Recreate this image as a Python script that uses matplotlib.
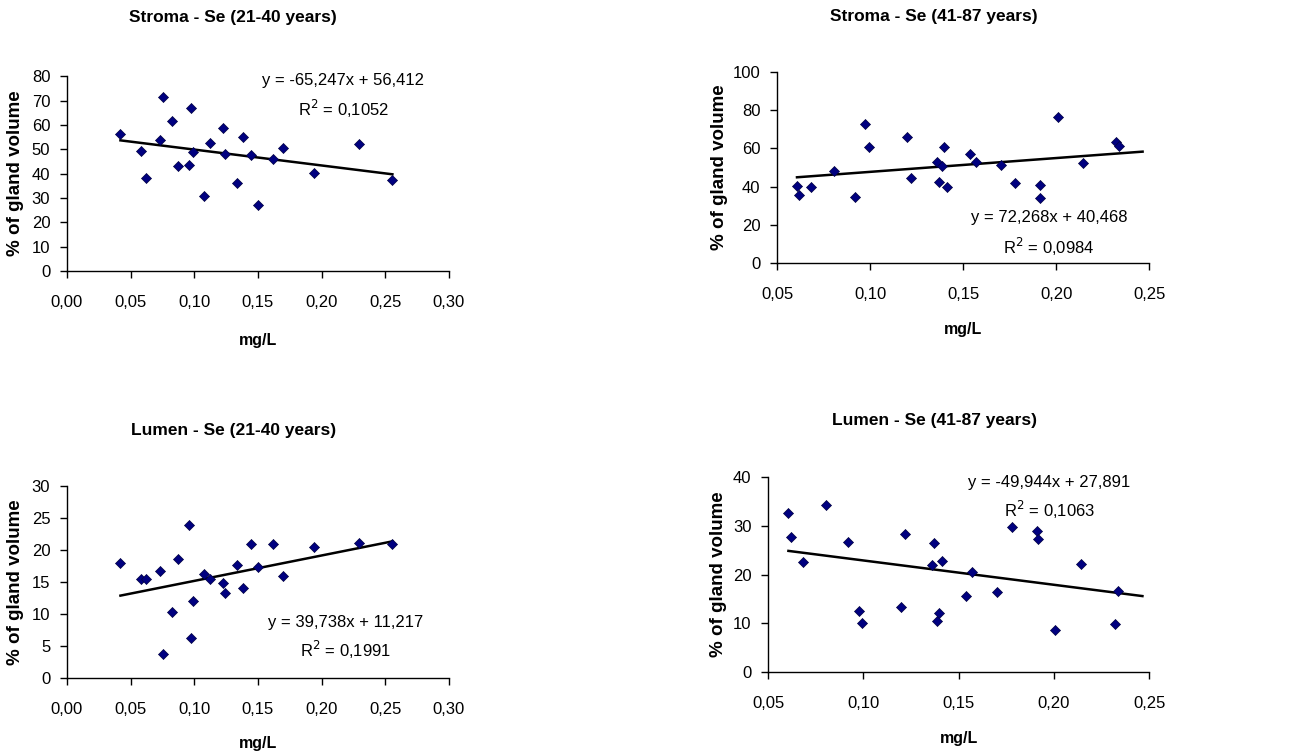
import numpy as np
import matplotlib
matplotlib.use("Agg")
import matplotlib.pyplot as plt
from matplotlib.ticker import FuncFormatter

plt.rcParams['font.family'] = ['Liberation Sans', 'DejaVu Sans']

# --- data ---
# 21-40 years group (same subjects in both stroma and lumen panels)
se_young = [0.0420, 0.0580, 0.0617, 0.0732, 0.0758, 0.0825, 0.0874, 0.0960, 0.0978,
            0.0986, 0.1078, 0.1125, 0.1229, 0.1245, 0.1334, 0.1386, 0.1448, 0.1498,
            0.1619, 0.1697, 0.1942, 0.2294, 0.2556]
stroma_young = [56.2, 49.3, 38.2, 54.0, 71.4, 61.8, 43.2, 43.7, 66.8, 48.8, 31.0, 52.7,
                58.9, 48.2, 36.0, 55.1, 47.8, 27.0, 46.0, 50.6, 40.4, 52.2, 37.5]
lumen_young = [18.0, 15.5, 15.5, 16.7, 3.8, 10.3, 18.6, 24.0, 6.3, 12.0, 16.2, 15.5,
               14.9, 13.3, 17.6, 14.1, 20.9, 17.4, 20.9, 16.0, 20.5, 21.1, 20.9]

# 41-87 years group
se_old = [0.0607, 0.0620, 0.0684, 0.0805, 0.0920, 0.0975, 0.0995, 0.1198, 0.1220,
          0.1358, 0.1370, 0.1388, 0.1395, 0.1412, 0.1539, 0.1568, 0.1702, 0.1780,
          0.1913, 0.1915, 0.2008, 0.2145, 0.2322, 0.2337]
stroma_old = [40.5, 35.4, 39.6, 48.0, 34.7, 72.9, 60.6, 66.1, 44.5, 52.9, 42.6, 50.6,
              60.6, 39.8, 57.1, 52.9, 51.5, 41.9, 41.0, 34.2, 76.3, 52.2, 63.4, 61.1]
lumen_old = [32.6, 27.8, 22.6, 34.3, 26.7, 12.6, 10.1, 13.3, 28.4, 22.0, 26.5, 10.4,
             12.2, 22.8, 15.5, 20.6, 16.5, 29.8, 29.0, 27.3, 8.7, 22.2, 9.9, 16.7]

# trendline coefficients as printed on the charts
fits = {
    'stroma_young': (-65.247, 56.412, 0.1052),
    'stroma_old': (72.268, 40.468, 0.0984),
    'lumen_young': (39.738, 11.217, 0.1991),
    'lumen_old': (-49.944, 27.891, 0.1063),
}
trend_end_old = 0.2465  # trendline for 41-87 group is extended a bit past the data

titles = ['Stroma - Se (21-40 years)', 'Stroma - Se (41-87 years)',
          'Lumen - Se (21-40 years)', 'Lumen - Se (41-87 years)']


def comma(v, dec):
    return f"{v:.{dec}f}".replace('.', ',')


def fmt_eq(a, b):
    sign = '+' if b >= 0 else '-'
    return f"y = {comma(a, 3)}x {sign} {comma(abs(b), 3)}"


fig = plt.figure(figsize=(12.93, 7.55), dpi=100)

# panel layout: axes rect, ticks, text spots (axes fractions)
panels = [
    dict(rect=[0.0518, 0.641, 0.2954, 0.258], x=se_young, y=stroma_young, fit='stroma_young',
         yt=np.arange(0, 81, 10), xt=np.arange(0, 0.301, 0.05), xend=None,
         title_xy=(0.435, 1.30), eq_xy=(0.723, 0.98), r2_xy=(0.723, 0.83),
         ylab_x=-0.134, xlab_y=-0.354),
    dict(rect=[0.601, 0.6517, 0.2877, 0.253], x=se_old, y=stroma_old, fit='stroma_old',
         yt=np.arange(0, 101, 20), xt=np.arange(0.05, 0.251, 0.05), xend=trend_end_old,
         title_xy=(0.422, 1.288), eq_xy=(0.731, 0.236), r2_xy=(0.731, 0.084),
         ylab_x=-0.156, xlab_y=-0.35),
    dict(rect=[0.0518, 0.102, 0.2954, 0.254], x=se_young, y=lumen_young, fit='lumen_young',
         yt=np.arange(0, 31, 5), xt=np.arange(0, 0.301, 0.05), xend=None,
         title_xy=(0.435, 1.29), eq_xy=(0.730, 0.29), r2_xy=(0.730, 0.146),
         ylab_x=-0.134, xlab_y=-0.344),
    dict(rect=[0.594, 0.110, 0.2947, 0.258], x=se_old, y=lumen_old, fit='lumen_old',
         yt=np.arange(0, 41, 10), xt=np.arange(0.05, 0.251, 0.05), xend=trend_end_old,
         title_xy=(0.436, 1.29), eq_xy=(0.738, 0.974), r2_xy=(0.738, 0.83),
         ylab_x=-0.129, xlab_y=-0.344),
]

for p, title in zip(panels, titles):
    ax = fig.add_axes(p['rect'])
    x = np.array(p['x'])
    y = np.array(p['y'])
    a, b, r2 = fits[p['fit']]

    ax.scatter(x, y, marker='D', s=26, color='#000080', edgecolor='#000040',
               linewidth=0.5, zorder=3, clip_on=False)
    xend = p['xend'] if p['xend'] is not None else x.max()
    xl = np.array([x.min(), xend])
    ax.plot(xl, a * xl + b, color='black', lw=1.8, zorder=2)

    ax.set_xlim(p['xt'][0], p['xt'][-1])
    ax.set_ylim(p['yt'][0], p['yt'][-1])
    ax.set_xticks(p['xt'])
    ax.set_yticks(p['yt'])
    ax.xaxis.set_major_formatter(FuncFormatter(lambda v, pos: comma(v, 2)))
    ax.yaxis.set_major_formatter(FuncFormatter(lambda v, pos: f"{v:.0f}"))

    for s in ['top', 'right']:
        ax.spines[s].set_visible(False)
    for s in ['left', 'bottom']:
        ax.spines[s].set_linewidth(1.0)
    ax.tick_params(axis='both', direction='out', length=5, width=1, labelsize=12)
    ax.tick_params(axis='x', pad=12)
    ax.tick_params(axis='y', pad=7)

    ax.text(*p['title_xy'], title, transform=ax.transAxes, ha='center', va='center',
            fontsize=12.5, fontweight='bold')
    ax.set_ylabel('% of gland volume', fontsize=13.5, fontweight='bold')
    ax.yaxis.label.set_va('center')
    ax.yaxis.set_label_coords(p['ylab_x'], 0.5)
    ax.set_xlabel('mg/L', fontsize=11.5, fontweight='bold')
    ax.xaxis.label.set_va('center')
    ax.xaxis.set_label_coords(0.5, p['xlab_y'])

    ax.text(*p['eq_xy'], fmt_eq(a, b), transform=ax.transAxes, ha='center',
            va='center', fontsize=12)
    ax.text(*p['r2_xy'], f"R$^2$ = {comma(r2, 4)}", transform=ax.transAxes,
            ha='center', va='center', fontsize=12)

fig.savefig('out.png', dpi=100)
